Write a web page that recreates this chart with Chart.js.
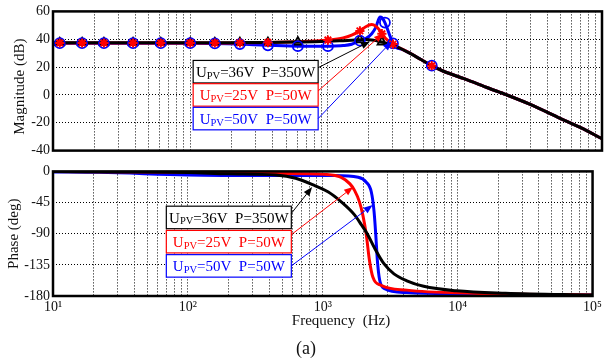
<!DOCTYPE html>
<html>
<head>
<meta charset="utf-8">
<script src="https://cdn.jsdelivr.net/npm/chart.js@4.4.1/dist/chart.umd.min.js"></script>
<style>
  body { margin: 0; background: #fff; width: 605px; height: 358px; position: relative; overflow: hidden; font-family: "Liberation Serif", serif; }
  canvas { position: absolute; left: 0; }
  #mag { top: 0; }
  #ph { top: 160px; }
  .lbl { position: absolute; text-align: center; white-space: pre; color: #111; }
</style>
</head>
<body>
<canvas id="mag" width="605" height="162"></canvas>
<canvas id="ph" width="605" height="160"></canvas>
<div class="lbl" style="left:241px; top:311px; width:200px; font-size:15px; line-height:18px;">Frequency  (Hz)</div>
<div class="lbl" style="left:256px; top:337px; width:100px; font-size:18px; line-height:22px;">(a)</div>

<script>
// ---- data ----
const seriesNames = ['36V', '25V', '50V'];
const seriesPower = ['350W', '50W', '50W'];

// magnitude (dB), shared frequency grid
const magFreq  = [10, 11.2, 16.3, 23.5, 38.3, 61, 100, 151, 230, 368, 608, 800, 1007, 1300, 1500, 1722, 1900, 2100, 2250, 2410, 2490, 2620, 2800, 3000, 3170, 3500, 4000, 4800, 5750, 7000, 10000, 15000, 20000, 30000, 50000, 70000, 100000];
const magBlack = [37.5, 37.5, 37.5, 37.5, 37.5, 37.5, 37.5, 37.5, 37.6, 37.7, 38.0, 38.2, 38.5, 39.0, 39.3, 39.6, 39.8, 39.5, 39.0, 38.3, 38.0, 37.4, 36.6, 35.6, 34.7, 32.8, 29.8, 25.4, 21.0, 17.0, 11.5, 4.8, 0.2, -6.8, -17.0, -23.5, -31.5];
const magRed   = [37.3, 37.3, 37.3, 37.3, 37.3, 37.3, 37.3, 37.3, 37.4, 37.6, 38.2, 38.7, 39.4, 41.0, 43.0, 46.0, 49.0, 50.5, 49.3, 46.2, 44.0, 41.0, 38.5, 36.5, 35.0, 32.9, 29.9, 25.4, 21.0, 17.0, 11.5, 4.8, 0.2, -6.8, -17.0, -23.5, -31.5];
const magBlue  = [37.2, 37.2, 37.2, 37.2, 37.2, 37.2, 37.2, 37.0, 36.5, 35.6, 35.0, 34.9, 35.0, 35.5, 36.4, 39.0, 40.5, 44.0, 48.5, 56.0, 55.5, 52.0, 44.5, 37.0, 34.0, 32.7, 29.9, 25.4, 21.0, 17.0, 11.5, 4.8, 0.2, -6.8, -17.0, -23.5, -31.5];

// marker positions (indices into magFreq)
const markBlack = [1, 2, 3, 4, 5, 6, 7, 8, 9, 10, 15, 20];
const markBlue  = [1, 2, 3, 4, 5, 6, 7, 8, 9, 10, 12, 15, 21, 23, 28];
const markRed   = [1, 2, 3, 4, 5, 6, 7, 8, 9, 12, 15, 20, 23, 28];

// phase (deg)
const phBlackF = [10, 30, 100, 200, 450, 630, 880, 1100, 1370, 1720, 1930, 2150, 2410, 2850, 3370, 4200, 5600, 9800, 22600, 100000];
const phBlack  = [-0.3, -0.8, -1.6, -3.5, -5.2, -9.9, -21, -29.8, -44, -62.8, -77, -91, -110, -133.7, -148, -158, -166, -172.5, -176, -178.6];
const phRedF   = [10, 100, 450, 1040, 1370, 1590, 1720, 1870, 1980, 2100, 2220, 2350, 2700, 4200, 12900, 100000];
const phRed    = [-0.2, -1.2, -2.8, -4.3, -8.5, -18, -27.4, -44, -62.8, -91, -129, -152.6, -164.4, -171.5, -176, -178.6];
const phBlueF  = [10, 22, 100, 200, 450, 1230, 1830, 2100, 2290, 2400, 2470, 2540, 2640, 2850, 4200, 10000, 100000];
const phBlue   = [-0.8, -1.4, -5.2, -5.8, -6, -6, -8.5, -15.6, -29.8, -58, -91, -129, -157, -169, -175, -177, -178.6];

// axis ticks
const magTicks = [-40, -20, 0, 20, 40, 60];
const phTicks  = [-180, -135, -90, -45, 0];
const decades  = [10, 100, 1000, 10000, 100000];

// ---- styles / layout ----
const colors = ['#000000', '#ff0000', '#0000ff'];
const FONT = '"Liberation Serif", serif';
const sup = { 1: '\u00b9', 2: '\u00b2', 3: '\u00b3', 4: '\u2074', 5: '\u2075' };

// annotation boxes: left edge / centre in data units, arrow tip in data units
const magAnno = [
  { boxF: 105, boxV: 16.7, toF: 2040, toV: 38.4, dy: -4 },
  { boxF: 105, boxV: 0,    toF: 2535, toV: 44.1, dy: -4 },
  { boxF: 105, boxV: -17,  toF: 2936, toV: 38.4, dy: 0 }
];
const phAnno = [
  { boxF: 69.2, boxV: -66.5,  toF: 834,  toV: -22.7, dy: -4 },
  { boxF: 69.2, boxV: -101.5, toF: 1679, toV: -22.7, dy: -7 },
  { boxF: 69.2, boxV: -136.5, toF: 2344, toV: -48.6, dy: 0 }
];

const pts = (f, v) => f.map((x, i) => ({ x: x, y: v[i] }));

const framePlugin = {
  id: 'frame',
  afterDraw(chart) {
    const { ctx, chartArea: a } = chart;
    ctx.save();
    ctx.strokeStyle = '#000';
    ctx.lineWidth = 2.5;
    ctx.strokeRect(a.left, a.top, a.right - a.left, a.bottom - a.top);
    ctx.restore();
  }
};

const annoPlugin = {
  id: 'anno',
  afterDatasetsDraw(chart, args, opts) {
    const { ctx } = chart;
    const xs = chart.scales.x, ys = chart.scales.y;
    const W = 125, H = 22.5;
    opts.items.forEach((a, i) => {
      const col = colors[i];
      const left = xs.getPixelForValue(a.boxF);
      const cy = ys.getPixelForValue(a.boxV);
      ctx.save();
      ctx.fillStyle = '#fff';
      ctx.fillRect(left, cy - H / 2, W, H);
      ctx.strokeStyle = col;
      ctx.lineWidth = 1.2;
      ctx.strokeRect(left, cy - H / 2, W, H);

      // text: U_PV=..V  P=..W
      const rest = '=' + seriesNames[i] + '  P=' + seriesPower[i];
      ctx.font = '15px ' + FONT;
      const wU = ctx.measureText('U').width;
      const wR = ctx.measureText(rest).width;
      ctx.font = '10.5px ' + FONT;
      const wS = ctx.measureText('PV').width;
      let x = left + (W - (wU + wS + wR)) / 2;
      const base = cy + 5.5;
      ctx.fillStyle = col;
      ctx.textBaseline = 'alphabetic';
      ctx.font = '15px ' + FONT;
      ctx.fillText('U', x, base); x += wU;
      ctx.font = '10.5px ' + FONT;
      ctx.fillText('PV', x, base + 1.5); x += wS;
      ctx.font = '15px ' + FONT;
      ctx.fillText(rest, x, base);

      // arrow
      const x0 = left + W, y0 = cy + a.dy;
      const x1 = xs.getPixelForValue(a.toF), y1 = ys.getPixelForValue(a.toV);
      const ang = Math.atan2(y1 - y0, x1 - x0);
      const hl = 9, hw = 3.5;
      ctx.strokeStyle = col;
      ctx.lineWidth = 1;
      ctx.beginPath();
      ctx.moveTo(x0, y0);
      ctx.lineTo(x1 - hl * Math.cos(ang), y1 - hl * Math.sin(ang));
      ctx.stroke();
      ctx.beginPath();
      ctx.moveTo(x1, y1);
      ctx.lineTo(x1 - hl * Math.cos(ang) + hw * Math.sin(ang), y1 - hl * Math.sin(ang) - hw * Math.cos(ang));
      ctx.lineTo(x1 - hl * Math.cos(ang) - hw * Math.sin(ang), y1 - hl * Math.sin(ang) + hw * Math.cos(ang));
      ctx.closePath();
      ctx.fillStyle = col;
      ctx.fill();
      ctx.restore();
    });
  }
};

function logGrid(scale) {
  const t = [];
  for (let d = 0; d < decades.length - 1; d++)
    for (let k = 1; k < 10; k++) t.push({ value: k * decades[d] });
  t.push({ value: decades[decades.length - 1] });
  scale.ticks = t;
}

function xAxis(showLabels) {
  return {
    type: 'logarithmic',
    min: decades[0],
    max: decades[decades.length - 1],
    afterBuildTicks: logGrid,
    afterFit: s => { s.height = showLabels ? 24 : 0; },
    grid: { color: '#000', lineWidth: 1, drawTicks: false },
    border: { display: false, dash: [1, 2] },
    ticks: {
      display: showLabels,
      autoSkip: false,
      maxRotation: 0,
      padding: 3,
      color: '#111',
      font: { family: FONT, size: 14 },
      callback: v => {
        const e = Math.log10(v);
        return Math.abs(e - Math.round(e)) < 1e-6 ? '10' + sup[Math.round(e)] : '';
      }
    }
  };
}

function yAxis(ticks, title, titlePad) {
  return {
    min: ticks[0],
    max: ticks[ticks.length - 1],
    afterBuildTicks: s => { s.ticks = ticks.map(v => ({ value: v })); },
    afterFit: s => { s.width = 53; },
    grid: { color: '#000', lineWidth: 1, drawTicks: false },
    border: { display: false, dash: [1, 2] },
    ticks: { color: '#111', padding: 3, font: { family: FONT, size: 14 } },
    title: { display: true, text: title, color: '#111', padding: { top: titlePad, bottom: 0 }, font: { family: FONT, size: 15 } }
  };
}

const lineDs = (data, col, order) => ({
  data: data, borderColor: col, borderWidth: 3, pointRadius: 0,
  cubicInterpolationMode: 'monotone', fill: false, order: order
});
const markDs = (data, col, idx, style, order) => ({
  data: data, showLine: false, order: order,
  pointStyle: style, pointBorderColor: col, pointBackgroundColor: 'rgba(0,0,0,0)',
  borderColor: col, backgroundColor: 'rgba(0,0,0,0)',
  pointBorderWidth: style === 'star' ? 2 : 1.8,
  pointRadius: c => idx.includes(c.dataIndex) ? (style === 'star' ? 4.6 : 5) : 0
});

const baseOpts = {
  responsive: false,
  animation: false,
  plugins: { legend: { display: false }, tooltip: { enabled: false } }
};

new Chart(document.getElementById('mag'), {
  type: 'line',
  data: {
    datasets: [
      markDs(pts(magFreq, magRed), colors[1], markRed, 'star', 0),
      markDs(pts(magFreq, magBlue), colors[2], markBlue, 'circle', 1),
      markDs(pts(magFreq, magBlack), colors[0], markBlack, 'triangle', 2),
      lineDs(pts(magFreq, magBlack), colors[0], 3),
      lineDs(pts(magFreq, magRed), colors[1], 4),
      lineDs(pts(magFreq, magBlue), colors[2], 5)
    ]
  },
  options: Object.assign({}, baseOpts, {
    layout: { padding: { top: 10, right: 3, bottom: 5, left: 0 } },
    plugins: Object.assign({}, baseOpts.plugins, { anno: { items: magAnno } }),
    scales: { x: xAxis(false), y: yAxis(magTicks, 'Magnitude (dB)   ', 11) }
  }),
  plugins: [annoPlugin, framePlugin]
});

new Chart(document.getElementById('ph'), {
  type: 'line',
  data: {
    datasets: [
      lineDs(pts(phBlackF, phBlack), colors[0], 0),
      lineDs(pts(phRedF, phRed), colors[1], 1),
      lineDs(pts(phBlueF, phBlue), colors[2], 2)
    ]
  },
  options: Object.assign({}, baseOpts, {
    layout: { padding: { top: 9, right: 3, bottom: 0, left: 0 } },
    plugins: Object.assign({}, baseOpts.plugins, { anno: { items: phAnno } }),
    scales: { x: xAxis(true), y: yAxis(phTicks, 'Phase (deg)', 5) }
  }),
  plugins: [annoPlugin, framePlugin]
});
</script>
</body>
</html>
